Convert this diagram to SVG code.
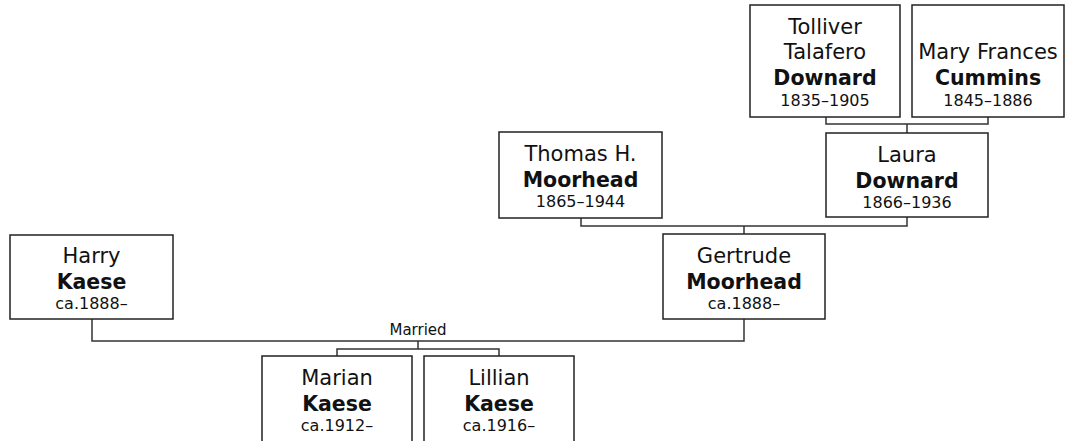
<svg xmlns="http://www.w3.org/2000/svg" width="1065" height="441" viewBox="0 0 1065 441">
<style>
rect.box{fill:#fff;stroke:#222;stroke-width:1.5}
.cn{fill:none;stroke:#333;stroke-width:1.5}
text{font-family:"DejaVu Sans",Verdana,sans-serif;fill:#111;text-anchor:middle}
.n{font-size:21px}
.b{font-size:20.5px;font-weight:bold}
.d{font-size:16px}
.lbl{font-size:15px}
</style>
<rect width="1065" height="441" fill="#fff"/>
<g id="connectors">
<path class="cn" d="M826,117 V124 H988 V117 M907,124 V133"/>
<path class="cn" d="M581,218 V226 H907 V217 M744,226 V234"/>
<path class="cn" d="M92,319 V341 H744 V319 M418,341 V349 M337,356 V349 H499 V356"/>
<text class="lbl" x="418" y="335">Married</text>
</g>
<g id="tolliver">
<rect class="box" x="750" y="5" width="150" height="112"/>
<text class="n" x="825" y="34">Tolliver</text>
<text class="n" x="825" y="59">Talafero</text>
<text class="b" x="825" y="85">Downard</text>
<text class="d" x="825" y="106">1835–1905</text>
</g>
<g id="mary">
<rect class="box" x="912" y="5" width="152" height="112"/>
<text class="n" x="988" y="59">Mary Frances</text>
<text class="b" x="988" y="85">Cummins</text>
<text class="d" x="988" y="106">1845–1886</text>
</g>
<g id="laura">
<rect class="box" x="826" y="133" width="162" height="84"/>
<text class="n" x="907" y="162">Laura</text>
<text class="b" x="907" y="188">Downard</text>
<text class="d" x="907" y="208">1866–1936</text>
</g>
<g id="thomas">
<rect class="box" x="499" y="132" width="163" height="86"/>
<text class="n" x="580.5" y="161">Thomas H.</text>
<text class="b" x="580.5" y="187">Moorhead</text>
<text class="d" x="580.5" y="207">1865–1944</text>
</g>
<g id="gertrude">
<rect class="box" x="663" y="234" width="162" height="85"/>
<text class="n" x="744" y="263">Gertrude</text>
<text class="b" x="744" y="289">Moorhead</text>
<text class="d" x="744" y="309">ca.1888–</text>
</g>
<g id="harry">
<rect class="box" x="10" y="235" width="163" height="84"/>
<text class="n" x="91.5" y="263">Harry</text>
<text class="b" x="91.5" y="289">Kaese</text>
<text class="d" x="91.5" y="309">ca.1888–</text>
</g>
<g id="marian">
<rect class="box" x="262" y="356" width="150" height="95"/>
<text class="n" x="337" y="385">Marian</text>
<text class="b" x="337" y="411">Kaese</text>
<text class="d" x="337" y="431">ca.1912–</text>
</g>
<g id="lillian">
<rect class="box" x="424" y="356" width="150" height="95"/>
<text class="n" x="499" y="385">Lillian</text>
<text class="b" x="499" y="411">Kaese</text>
<text class="d" x="499" y="431">ca.1916–</text>
</g>
</svg>
